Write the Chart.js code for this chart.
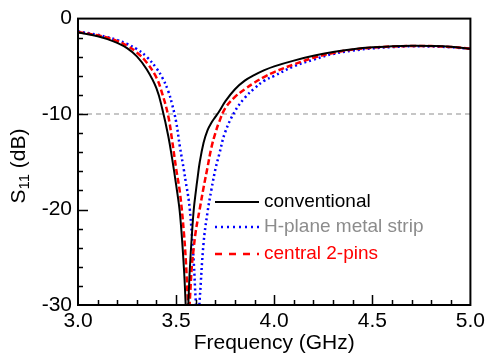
<!DOCTYPE html>
<html>
<head>
<meta charset="utf-8">
<script src="https://cdn.jsdelivr.net/npm/chart.js@4.4.1/dist/chart.umd.min.js"></script>
<style>
  body { margin: 0; background: #fff; }
  #wrap { width: 489px; height: 356px; }
</style>
</head>
<body>
<div id="wrap"><canvas id="s11Chart" width="489" height="356"></canvas></div>
<script>
// frequency grid (GHz), shared by all three curves
const freq = [3.0, 3.1, 3.15, 3.2, 3.25, 3.3, 3.35, 3.4, 3.43, 3.46, 3.48, 3.5, 3.52, 3.54, 3.55, 3.555, 3.56, 3.565, 3.57, 3.58,
              3.59, 3.6, 3.61, 3.62, 3.64, 3.66, 3.68, 3.7, 3.72, 3.75, 3.8, 3.85, 3.9, 3.95, 4.0, 4.1, 4.2, 4.3, 4.4, 4.5,
              4.6, 4.7, 4.8, 4.9, 5.0];

// S11 in dB
const conventional = [-1.45, -1.85, -2.15, -2.55, -3.1, -3.95, -5.3, -7.3, -9.5, -12.3, -14.7, -17.4, -20.5, -26.2, -30.5, -32.5, -31, -28.5, -26.2, -22.8,
                      -20.0, -18.2, -16.6, -15.1, -13.0, -11.7, -10.9, -10.3, -9.7, -8.7, -7.4, -6.5, -5.9, -5.4, -5.0, -4.4, -3.9, -3.5, -3.2, -3.0,
                      -2.9, -2.85, -2.87, -2.95, -3.15];
const hPlaneStrip = [-1.35, -1.7, -1.95, -2.25, -2.65, -3.2, -4.0, -5.2, -6.2, -7.6, -9.0, -10.8, -13.5, -15.9, -17.2, -17.8, -18.4, -19.1, -20.0, -22.5,
                     -25.5, -29.5, -32, -29.5, -23.5, -20.3, -17.9, -15.8, -14.2, -11.9, -9.7, -8.3, -7.3, -6.5, -6.0, -5.0, -4.3, -3.7, -3.35, -3.12,
                     -2.98, -2.9, -2.92, -3.0, -3.17];
const central2Pins = [-1.4, -1.75, -2.0, -2.35, -2.85, -3.55, -4.6, -6.2, -7.9, -10.2, -12.8, -15.7, -18.3, -22.5, -25.5, -27.5, -29.5, -31, -29.5, -26,
                      -24, -22.3, -21.1, -20.0, -17.7, -15.6, -13.5, -12.0, -10.8, -9.4, -8.2, -7.4, -6.7, -6.1, -5.6, -4.8, -4.1, -3.6, -3.25, -3.05,
                      -2.92, -2.87, -2.88, -2.97, -3.15];

const refLevel = -10;
const xRange = [3.0, 5.0];
const yRange = [-30, 0];
const seriesNames = ['conventional', 'H-plane metal strip', 'central 2-pins'];

function pts(ys) {
    return freq.map(function(f, i) { return { x: f, y: ys[i] }; });
}

// inside ticks, frame, y title with subscript and the legend
const decorations = {
    id: 'decorations',
    afterDatasetsDraw(chart) {
        const ctx = chart.ctx;
        const a = chart.chartArea;
        const xs = chart.scales.x, ys = chart.scales.y;
        ctx.save();
        ctx.strokeStyle = '#000';
        ctx.lineWidth = 1.5;
        ctx.beginPath();
        for (let k = 1; k < 20; k++) {
            const v = 3 + k * 0.1;
            const px = Math.round(xs.getPixelForValue(v)) + 0.5;
            const len = (k % 5 === 0) ? 10 : 5;
            ctx.moveTo(px, a.bottom);
            ctx.lineTo(px, a.bottom - len);
        }
        for (let v = -28; v < 0; v += 2) {
            const py = Math.round(ys.getPixelForValue(v)) + 0.5;
            const len = (v % 10 === 0) ? 10 : 5;
            ctx.moveTo(a.left, py);
            ctx.lineTo(a.left + len, py);
        }
        ctx.stroke();

        ctx.lineWidth = 2;
        ctx.strokeRect(a.left, a.top, a.right - a.left, a.bottom - a.top);

        // y axis title: S11 (dB)
        ctx.translate(19, 166);
        ctx.rotate(-Math.PI / 2);
        ctx.fillStyle = '#000';
        ctx.textBaseline = 'middle';
        ctx.textAlign = 'left';
        const big = '21px "Liberation Sans", Arial, sans-serif';
        const small = '15px "Liberation Sans", Arial, sans-serif';
        ctx.font = big;
        const wS = ctx.measureText('S').width;
        const wRest = ctx.measureText(' (dB)').width;
        ctx.font = small;
        const wSub = ctx.measureText('11').width;
        let x0 = -(wS + wSub + wRest) / 2;
        ctx.font = big;
        ctx.fillText('S', x0, 0);
        ctx.font = small;
        ctx.fillText('11', x0 + wS, 6);
        ctx.font = big;
        ctx.fillText(' (dB)', x0 + wS + wSub, 0);
        ctx.restore();

        // legend
        ctx.save();
        const rows = [
            { y: 202, color: '#000', text: '#000', dash: [], width: 2 },
            { y: 227, color: '#0000ff', text: '#8c8c8c', dash: [2, 4], width: 2.5 },
            { y: 254, color: '#ff0000', text: '#ff0000', dash: [7, 7], width: 2.5 }
        ];
        ctx.font = '19px "Liberation Sans", Arial, sans-serif';
        ctx.textBaseline = 'middle';
        rows.forEach(function(r, i) {
            ctx.beginPath();
            ctx.strokeStyle = r.color;
            ctx.lineWidth = r.width;
            ctx.setLineDash(r.dash);
            ctx.moveTo(215, r.y);
            ctx.lineTo(259, r.y);
            ctx.stroke();
            ctx.fillStyle = r.text;
            ctx.fillText(seriesNames[i], 264, r.y);
        });
        ctx.restore();
    }
};

const ctx = document.getElementById('s11Chart').getContext('2d');
const s11Chart = new Chart(ctx, {
    type: 'line',
    data: {
        datasets: [{
            label: seriesNames[0],
            data: pts(conventional),
            borderColor: '#000',
            borderWidth: 2,
            order: 1
        },
        {
            label: seriesNames[2],
            data: pts(central2Pins),
            borderColor: '#ff0000',
            borderWidth: 2.5,
            borderDash: [6, 3],
            order: 2
        },
        {
            label: seriesNames[1],
            data: pts(hPlaneStrip),
            borderColor: '#0000ff',
            borderWidth: 2.5,
            borderDash: [2, 3],
            order: 3
        },
        {
            label: 'ref',
            data: [{ x: xRange[0], y: refLevel }, { x: xRange[1], y: refLevel }],
            borderColor: '#b4b4b4',
            borderWidth: 1.5,
            borderDash: [5, 4],
            tension: 0,
            order: 4
        }]
    },
    options: {
        responsive: false,
        animation: false,
        parsing: false,
        elements: {
            point: { radius: 0 },
            line: { tension: 0.4, fill: false }
        },
        layout: { padding: { left: 0, right: 17, top: 17, bottom: 0 } },
        plugins: {
            legend: { display: false },
            tooltip: { enabled: false }
        },
        scales: {
            x: {
                type: 'linear',
                min: xRange[0],
                max: xRange[1],
                grid: { display: false, drawTicks: false },
                border: { display: false },
                afterFit: function(scale) { scale.height = 51; },
                ticks: {
                    stepSize: 0.5,
                    padding: 4,
                    color: '#000',
                    maxRotation: 0,
                    font: { family: '"Liberation Sans", Arial, sans-serif', size: 21 },
                    callback: function(v) { return v.toFixed(1); }
                },
                title: {
                    display: true,
                    text: 'Frequency (GHz)',
                    color: '#000',
                    padding: { top: 0, bottom: 0 },
                    font: { family: '"Liberation Sans", Arial, sans-serif', size: 21 }
                }
            },
            y: {
                type: 'linear',
                min: yRange[0],
                max: yRange[1],
                grid: { display: false, drawTicks: false },
                border: { display: false },
                afterFit: function(scale) { scale.width = 78; },
                ticks: {
                    stepSize: 10,
                    padding: 6,
                    color: '#000',
                    font: { family: '"Liberation Sans", Arial, sans-serif', size: 21 }
                }
            }
        }
    },
    plugins: [decorations]
});
</script>
</body>
</html>
